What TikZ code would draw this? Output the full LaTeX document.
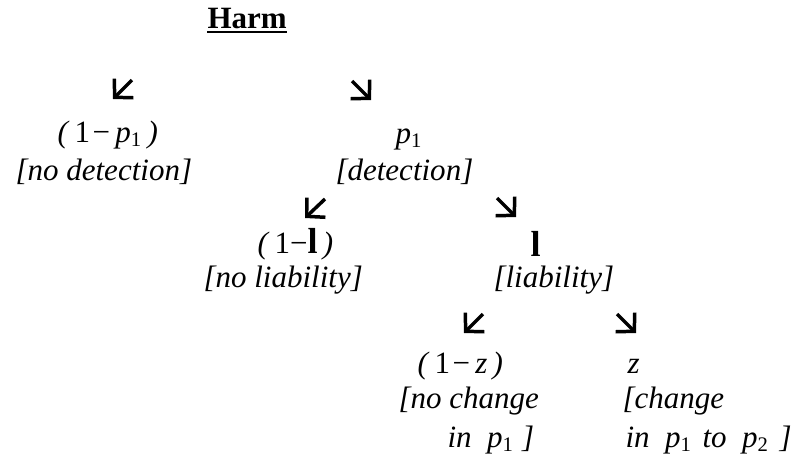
\documentclass[tikz,border=0pt]{standalone}
\usepackage{fontspec}
\setmainfont{Liberation Serif}
\usetikzlibrary{arrows.meta}
\newcommand{\prb}[1]{\textit{p}\textsubscript{\upshape #1}}
\newcommand{\lbd}{{\fontsize{14}{16}\selectfont\bfseries l}}
\tikzset{
    branch/.style={
        line width=1.35pt,
        -{Straight Barb[length=5pt,width=10.5pt]}
    },
    prob/.style={
        anchor=base west, inner sep=0pt,
        font=\fontsize{12}{14}\selectfont
    },
    outcome/.style={
        prob,
        font=\fontsize{12}{14}\selectfont\itshape
    }
}

\begin{document}
\begin{tikzpicture}[x=0.387pt,y=-0.387pt]
            \useasboundingbox (0,0) rectangle (800,463);
            % root
            \node[prob, font=\fontsize{12}{14}\selectfont\bfseries] (harm) at (207,28) {Harm};
            \draw[line width=0.8pt] ([yshift=-1.6pt]harm.base west) -- ([yshift=-1.6pt]harm.base east);
            % detection
            \node[prob] (nodetp) at (57,142) {\textit{(}\,1\kern1pt−\,\prb{1}\,\textit{)}};
            \node[outcome] (nodet) at (15,180) {[no detection]};
            \node[prob] (detp) at (395,143) {\prb{1}};
            \node[outcome] (det) at (335,180) {[detection]};
            % liability
            \node[prob] (noliabp) at (257,253) {\textit{(}\,1−\lbd\,\textit{)}};
            \node[outcome] (noliab) at (203,287) {[no liability]};
            \node[prob] (liabp) at (530,256) {\lbd};
            \node[outcome] (liab) at (493,287) {[liability]};
            % change
            \node[prob] (nochgp) at (417,373) {\textit{(}\,1\kern1pt−\,\textit{z}\,\textit{)}};
            \node[outcome] (nochg) at (398,408) {[no change};
            \node[outcome] (nochgb) at (447,447) {in\ \ \prb{1}\kern3pt]};
            \node[prob] (chgp) at (627,373) {\textit{z}};
            \node[outcome] (chg) at (622,408) {[change};
            \node[outcome] (chgb) at (625,447) {in\ \ \prb{1}\ \kern1pt to\ \ \prb{2}\kern4pt]};
            % branches
            \coordinate (b1s) at (132,80);  \coordinate (b1e) at (113,99);
            \coordinate (b2s) at (352,81);  \coordinate (b2e) at (371,100);
            \coordinate (b3s) at (325,199); \coordinate (b3e) at (305,218);
            \coordinate (b4s) at (497,198); \coordinate (b4e) at (516,217);
            \coordinate (b5s) at (483,314); \coordinate (b5e) at (464,333);
            \coordinate (b6s) at (617,314); \coordinate (b6e) at (636,333);
            \draw[branch] (b1s) -- (b1e);
            \draw[branch] (b2s) -- (b2e);
            \draw[branch] (b3s) -- (b3e);
            \draw[branch] (b4s) -- (b4e);
            \draw[branch] (b5s) -- (b5e);
            \draw[branch] (b6s) -- (b6e);
        \end{tikzpicture}
\end{document}
